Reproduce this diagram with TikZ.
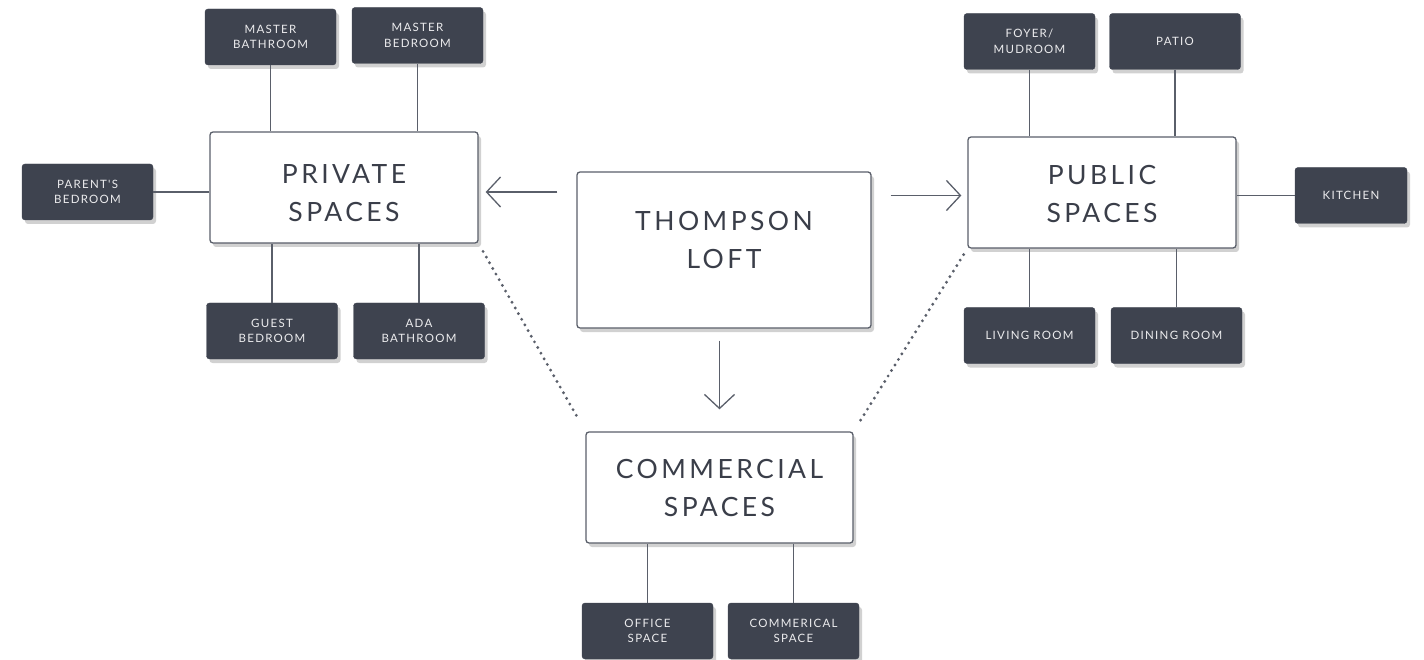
\documentclass[tikz,border=0pt]{standalone}
\usepackage{fontspec}
\setmainfont{Lato}
\newfontfamily\bigfont[LetterSpace=13]{Lato}
\newfontfamily\smallfont[LetterSpace=11]{Lato}
\usetikzlibrary{arrows.meta,shadows}
\definecolor{darkbox}{HTML}{3E434F}
\definecolor{txt}{HTML}{3A3E49}
\definecolor{linec}{HTML}{5A5F6A}
\definecolor{lighttxt}{HTML}{ECECEE}
\tikzset{
  shad/.style={drop shadow={shadow xshift=3pt, shadow yshift=-4pt, opacity=0.18, fill=black}},
  roombox/.style={shad, draw=darkbox, fill=darkbox, rounded corners=3pt, minimum width=131pt, minimum height=56pt,
    inner sep=0pt, align=center, text=lighttxt, font=\smallfont\fontsize{11.5}{15.5}\selectfont},
  zonebox/.style={shad, draw=linec, line width=1.3pt, fill=white, rounded corners=3pt, minimum width=268pt, minimum height=111pt,
    inner sep=0pt},
  zonetext/.style={font=\bigfont\fontsize{26.5}{38}\selectfont, text=txt, align=center},
  link/.style={draw=linec, line width=1.8pt},
  arr/.style={draw=linec, line width=1.3pt, -{Straight Barb[length=14pt, width=30pt, line width=1.3pt]}},
  dots/.style={draw=linec, line width=3.2pt, line cap=round, dash pattern=on 0pt off 6.5pt}
}
\begin{document}
\begin{tikzpicture}[x=1pt, y=-1pt]
\useasboundingbox (0,0) rectangle (1424,660);
% zones
\node[zonebox, label={[zonetext, yshift=-6pt]center:PRIVATE\\SPACES}] (private) at (344,187.5) {};
\node[zonebox, label={[zonetext, yshift=-2pt]center:PUBLIC\\SPACES}] (public) at (1102,192.5) {};
\node[zonebox, minimum width=294pt, minimum height=156pt,
  label={[zonetext, yshift=10pt]center:THOMPSON\\LOFT}] (loft) at (724,250) {};
\node[zonebox, minimum width=267pt, label={[zonetext, yshift=-1pt]center:COMMERCIAL\\SPACES}] (commercial) at (719.5,487.5) {};
% private rooms
\node[roombox] (mbath) at (270.5,37) {MASTER\\BATHROOM};
\node[roombox] (mbed) at (417.5,35.5) {MASTER\\BEDROOM};
\node[roombox] (parent) at (87.5,192) {PARENT'S\\BEDROOM};
\node[roombox] (guest) at (272,331) {GUEST\\BEDROOM};
\node[roombox] (ada) at (419,331) {ADA\\BATHROOM};
% public rooms
\node[roombox] (foyer) at (1029.5,41.5) {FOYER/\\MUDROOM};
\node[roombox] (patio) at (1175,41.5) {PATIO};
\node[roombox, minimum width=112pt] (kitchen) at (1351,195.5) {KITCHEN};
\node[roombox] (living) at (1029.5,335.5) {LIVING ROOM};
\node[roombox] (dining) at (1176.5,335.5) {DINING ROOM};
% commercial rooms
\node[roombox] (office) at (647.5,631) {OFFICE\\SPACE};
\node[roombox] (commspace) at (793.5,631) {COMMERICAL\\SPACE};
% links
\draw[link] (mbath.south) -- (mbath.south |- private.north);
\draw[link] (mbed.south) -- (mbed.south |- private.north);
\draw[link] (guest.north) -- (guest.north |- private.south);
\draw[link] (ada.north) -- (ada.north |- private.south);
\draw[link] (parent.east) -- (parent.east -| private.west);
\draw[link] (foyer.south) -- (foyer.south |- public.north);
\draw[link] (patio.south) -- (patio.south |- public.north);
\draw[link] (living.north) -- (living.north |- public.south);
\draw[link] (dining.north) -- (dining.north |- public.south);
\draw[link] (kitchen.west) -- (kitchen.west -| public.east);
\draw[link] (office.north) -- (office.north |- commercial.south);
\draw[link] (commspace.north) -- (commspace.north |- commercial.south);
% arrows
\draw[arr, shorten <=19pt, shorten >=7pt] (loft.west |- parent.east) -- (private.east |- parent.east);
\draw[arr, shorten <=19pt, shorten >=6pt] (loft.east |- kitchen.west) -- (public.west |- kitchen.west);
\draw[arr, shorten <=12pt, shorten >=22pt] (commercial.north |- loft.south) -- (commercial.north);
% dotted
\draw[dots, shorten <=9pt, shorten >=13pt] (private.south east) -- (commercial.north west);
\draw[dots, shorten <=7pt, shorten >=9pt] (public.south west) -- (commercial.north east);
\end{tikzpicture}
\end{document}
